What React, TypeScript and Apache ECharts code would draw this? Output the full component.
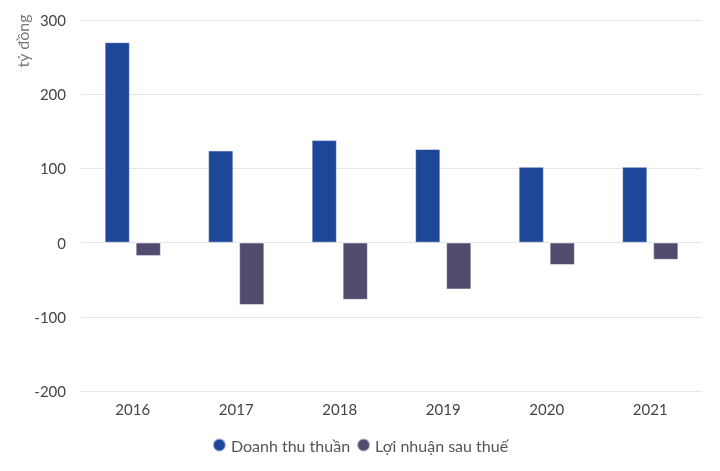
import React, { useEffect, useRef } from "react";
import * as echarts from "echarts";

const categories = ["2016", "2017", "2018", "2019", "2020", "2021"];
const revenue = [270, 124, 138, 126, 102, 102];
const profit = [-18, -84, -77, -63, -30, -23];
const seriesNames = ["Doanh thu thuần", "Lợi nhuận sau thuế"];

export default function App() {
  const ref = useRef<HTMLDivElement>(null);
  useEffect(() => {
    if (!ref.current) return;
    const chart = echarts.init(ref.current, undefined, { renderer: "svg" });
    const font = "Lato, 'Noto Sans', sans-serif";
    chart.setOption({
      animation: false,
      textStyle: { fontFamily: font },
      grid: { left: 81, right: 18, top: 20, bottom: 80, containLabel: false },
      legend: {
        bottom: 13,
        left: "center",
        icon: "circle",
        itemWidth: 13,
        itemHeight: 13,
        itemGap: 6,
        textStyle: { color: "#555", fontSize: 16, fontFamily: font },
        data: seriesNames,
      },
      graphic: [
        {
          type: "text",
          x: 22,
          y: 41,
          rotation: Math.PI / 2,
          style: {
            text: "tỷ đồng",
            fill: "#777",
            fontSize: 16,
            fontFamily: font,
            align: "center",
            verticalAlign: "middle",
          },
        },
      ],
      xAxis: {
        type: "category",
        data: categories,
        axisLine: { show: false },
        axisTick: { show: false },
        axisLabel: { color: "#444", fontSize: 15, margin: 10, fontFamily: font },
      },
      yAxis: {
        type: "value",
        min: -200,
        max: 300,
        interval: 100,
        axisLine: { show: false },
        axisTick: { show: false },
        axisLabel: { color: "#444", fontSize: 15, margin: 15, fontFamily: font },
        splitLine: { lineStyle: { color: "#e6e6e6", width: 1 } },
      },
      series: [
        {
          name: seriesNames[0],
          type: "bar",
          data: revenue,
          barWidth: 25,
          barGap: "24%",
          itemStyle: { color: "#1f4799", borderColor: "rgba(255,255,255,0.6)", borderWidth: 0.8 },
        },
        {
          name: seriesNames[1],
          type: "bar",
          data: profit,
          barWidth: 25,
          itemStyle: { color: "#524b6e", borderColor: "rgba(255,255,255,0.6)", borderWidth: 0.8 },
        },
      ],
    });
    return () => chart.dispose();
  }, []);
  return (
    <div
      ref={ref}
      style={{ position: "fixed", left: 0, top: 0, width: 720, height: 471 }}
    />
  );
}
